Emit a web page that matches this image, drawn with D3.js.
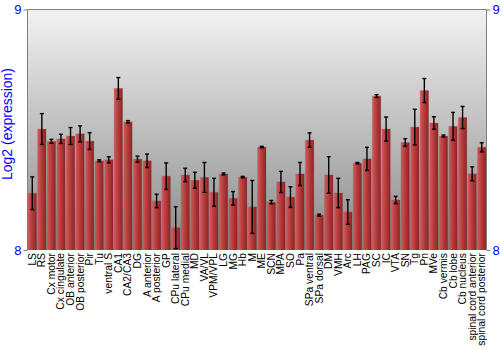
<!DOCTYPE html>
<html>
<head>
<meta charset="utf-8">
<script src="https://cdn.jsdelivr.net/npm/d3@7"></script>
<style>
  html, body { margin: 0; padding: 0; background: #ffffff; }
  svg { display: block; }
</style>
</head>
<body>
<svg id="chart" width="500" height="350"></svg>
<script>
const categories = ["LS","RS","Cx motor","Cx cingulate","OB anterior","OB posterior","Pir","Tu","ventral S","CA1","CA2/CA3","DG","A anterior","A posterior","GP","CPu lateral","CPu medial","MD","VA/VL","VPM/VPL","LG","MG","Hb","M","ME","SCN","MPA","SO","Pa","SPa ventral","SPa dorsal","DM","VMH","Arc","LH","PAG","SC","IC","VTA","SN","Tg","Pn","MVe","Cb vermis","Cb lobe","Cb nucleus","spinal cord anterior","spinal cord posterior"];
const values = [8.236,8.503,8.452,8.462,8.474,8.483,8.453,8.371,8.375,8.672,8.533,8.378,8.371,8.204,8.307,8.093,8.312,8.290,8.302,8.240,8.316,8.215,8.303,8.179,8.428,8.199,8.283,8.220,8.316,8.457,8.145,8.312,8.237,8.158,8.361,8.379,8.640,8.503,8.208,8.447,8.511,8.663,8.528,8.474,8.514,8.551,8.317,8.427];
const errors = [0.068,0.064,0.008,0.019,0.035,0.033,0.035,0.004,0.0125,0.045,0.005,0.0125,0.028,0.028,0.055,0.087,0.028,0.033,0.062,0.058,0.004,0.028,0.003,0.11,0.003,0.007,0.044,0.043,0.048,0.03,0.004,0.076,0.061,0.051,0.003,0.048,0.006,0.05,0.015,0.016,0.074,0.05,0.026,0.004,0.058,0.046,0.029,0.019];
const yTicks = [8, 9];
const yLabel = "Log2 (expression)";

(function () {
const svg = d3.select("#chart");
const pl = 27.5, pr = 486.5, pt = 9.5, pb = 250;

const defs = svg.append("defs");
const bg = defs.append("linearGradient").attr("id","bg").attr("x1",0).attr("y1",0).attr("x2",0).attr("y2",1);
bg.append("stop").attr("offset","0%").attr("stop-color","#f2f2f2");
bg.append("stop").attr("offset","100%").attr("stop-color","#8a8a8a");
const bar = defs.append("linearGradient").attr("id","bar").attr("x1",0).attr("y1",0).attr("x2",1).attr("y2",0);
bar.append("stop").attr("offset","0%").attr("stop-color","#d05a5a");
bar.append("stop").attr("offset","45%").attr("stop-color","#b83c3c");
bar.append("stop").attr("offset","100%").attr("stop-color","#8c2424");

const x = d3.scaleBand().domain(categories).range([pl, pr]).paddingInner(0.12).paddingOuter(0.06);
const y = d3.scaleLinear().domain([8, 9]).range([pb, pt]);

svg.append("rect").attr("x", pl).attr("y", pt).attr("width", pr - pl).attr("height", pb - pt).attr("fill", "url(#bg)");

const data = categories.map((c, i) => ({c, v: values[i], e: errors[i]}));

const g = svg.append("g");
g.selectAll("rect.shadow").data(data).join("rect")
  .attr("x", d => x(d.c) - 0.5)
  .attr("y", d => y(d.v) - 0.5)
  .attr("width", x.bandwidth() + 1)
  .attr("height", d => pb - y(d.v) + 0.5)
  .attr("fill", "#000").attr("opacity", 0.12);
g.selectAll("rect.bar").data(data).join("rect")
  .attr("x", d => x(d.c))
  .attr("y", d => y(d.v))
  .attr("width", x.bandwidth())
  .attr("height", d => pb - y(d.v))
  .attr("fill", "url(#bar)");

const eb = svg.append("g").attr("stroke", "#000").attr("stroke-width", 1.4);
data.forEach(d => {
  const cx = x(d.c) + x.bandwidth() / 2;
  eb.append("line").attr("x1", cx).attr("x2", cx).attr("y1", y(d.v + d.e)).attr("y2", y(d.v - d.e));
  eb.append("line").attr("x1", cx - 2).attr("x2", cx + 2).attr("y1", y(d.v + d.e)).attr("y2", y(d.v + d.e));
  eb.append("line").attr("x1", cx - 2).attr("x2", cx + 2).attr("y1", y(d.v - d.e)).attr("y2", y(d.v - d.e));
});

svg.append("path").attr("d", `M${pl},${pb}V${pt}H${pr}V${pb}`).attr("fill","none").attr("stroke","#808080").attr("stroke-width",1);

const yl = d3.axisLeft(y).tickValues(yTicks).tickSize(4).tickFormat(d3.format("d"));
const yr = d3.axisRight(y).tickValues(yTicks).tickSize(4).tickFormat(d3.format("d"));
[ [yl, pl, 1], [yr, pr, -1] ].forEach(([ax, xp, dx]) => {
  const a = svg.append("g").attr("transform", `translate(${xp},0)`).call(ax);
  a.select(".domain").remove();
  a.selectAll(".tick line").attr("stroke", "#808080");
  a.selectAll(".tick text").attr("fill", "#0000ff").attr("font-family", "Liberation Sans, Arial, sans-serif").attr("font-size", 13).attr("dx", dx);
});

svg.append("text")
  .attr("transform", "translate(12,124) rotate(-90)")
  .attr("text-anchor", "middle")
  .attr("fill", "#0000ff")
  .attr("font-family", "Liberation Sans, Arial, sans-serif")
  .attr("font-size", 14)
  .text(yLabel);

svg.append("g").selectAll("text").data(categories).join("text")
  .attr("transform", d => `translate(${x(d) + x.bandwidth()/2 + 3.5},253) rotate(-90)`)
  .attr("text-anchor", "end")
  .attr("fill", "#000")
  .attr("font-family", "Liberation Sans, Arial, sans-serif")
  .attr("font-size", 10.3)
  .text(d => d);
})();
</script>
</body>
</html>
